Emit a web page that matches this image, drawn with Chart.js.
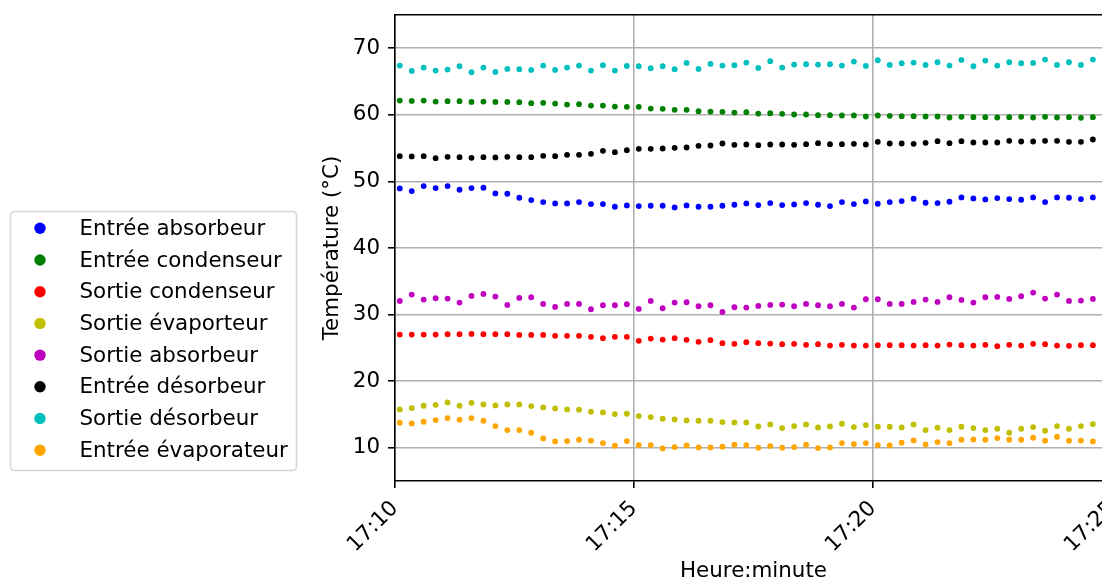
<!DOCTYPE html>
<html>
<head>
<meta charset="utf-8">
<script src="https://cdn.jsdelivr.net/npm/chart.js@4.4.0/dist/chart.umd.min.js"></script>
<style>
  html, body { margin: 0; padding: 0; background: #fff; overflow: hidden; }
  #wrap { width: 1125px; height: 583px; }
</style>
</head>
<body>
<div id="wrap"><canvas id="temp-chart" width="1125" height="583"></canvas></div>
<script>
// heure de chaque mesure
var heures = [
  '17:10:06','17:10:21','17:10:36','17:10:51','17:11:06','17:11:21','17:11:36','17:11:51',
  '17:12:06','17:12:21','17:12:36','17:12:51','17:13:06','17:13:21','17:13:36','17:13:51',
  '17:14:06','17:14:21','17:14:36','17:14:51','17:15:06','17:15:21','17:15:36','17:15:51',
  '17:16:06','17:16:21','17:16:36','17:16:51','17:17:06','17:17:21','17:17:36','17:17:51',
  '17:18:06','17:18:21','17:18:36','17:18:51','17:19:06','17:19:21','17:19:36','17:19:51',
  '17:20:06','17:20:21','17:20:36','17:20:51','17:21:06','17:21:21','17:21:36','17:21:51',
  '17:22:06','17:22:21','17:22:36','17:22:51','17:23:06','17:23:21','17:23:36','17:23:51',
  '17:24:06','17:24:21','17:24:36'
];

var entreeAbsorbeur = [
  48.95, 48.55, 49.3, 49.0, 49.3, 48.75, 49.0, 49.05, 48.2, 48.15, 47.55, 47.2, 46.9, 46.7, 46.7, 46.9, 46.6, 46.6, 46.2, 46.4,
  46.3, 46.35, 46.35, 46.1, 46.4, 46.2, 46.2, 46.35, 46.5, 46.7, 46.45, 46.75, 46.45, 46.55, 46.75, 46.5, 46.3, 46.9, 46.6, 47.0,
  46.65, 46.9, 47.05, 47.4, 46.8, 46.75, 46.95, 47.6, 47.45, 47.3, 47.5, 47.35, 47.25, 47.6, 46.9, 47.6, 47.55, 47.35, 47.6
];
var entreeCondenseur = [
  62.15, 62.1, 62.15, 62.0, 62.05, 62.05, 61.95, 62.0, 61.95, 61.95, 61.9, 61.75, 61.8, 61.7, 61.55, 61.6, 61.4, 61.4, 61.25, 61.2,
  61.2, 60.95, 60.9, 60.75, 60.75, 60.55, 60.5, 60.45, 60.35, 60.4, 60.2, 60.25, 60.15, 60.05, 60.05, 59.95, 59.95, 59.9, 59.9, 59.75,
  59.9, 59.85, 59.8, 59.8, 59.75, 59.75, 59.6, 59.7, 59.65, 59.65, 59.6, 59.65, 59.7, 59.6, 59.7, 59.6, 59.65, 59.55, 59.65
];
var sortieCondenseur = [
  27.0, 27.0, 27.0, 27.0, 27.05, 27.05, 27.1, 27.05, 27.05, 27.05, 26.95, 26.95, 26.95, 26.8, 26.8, 26.8, 26.65, 26.45, 26.65, 26.65,
  26.05, 26.4, 26.25, 26.45, 26.2, 25.9, 26.15, 25.7, 25.6, 25.85, 25.7, 25.65, 25.55, 25.6, 25.45, 25.55, 25.35, 25.45, 25.35, 25.35,
  25.4, 25.4, 25.4, 25.35, 25.4, 25.35, 25.5, 25.4, 25.35, 25.45, 25.25, 25.45, 25.35, 25.6, 25.55, 25.35, 25.3, 25.4, 25.4
];
var sortieEvaporteur = [
  15.75, 15.95, 16.3, 16.45, 16.8, 16.3, 16.75, 16.5, 16.35, 16.5, 16.5, 16.25, 16.05, 15.9, 15.75, 15.7, 15.4, 15.3, 15.05, 15.1,
  14.75, 14.6, 14.35, 14.25, 14.1, 14.05, 14.05, 13.85, 13.8, 13.8, 13.2, 13.5, 12.95, 13.25, 13.5, 13.05, 13.2, 13.6, 13.1, 13.4,
  13.15, 13.15, 13.05, 13.5, 12.65, 13.0, 12.65, 13.15, 12.95, 12.65, 12.85, 12.25, 12.85, 13.1, 12.55, 13.25, 12.85, 13.25, 13.55
];
var sortieAbsorbeur = [
  32.05, 33.0, 32.25, 32.45, 32.4, 31.8, 32.8, 33.1, 32.7, 31.45, 32.5, 32.6, 31.6, 31.15, 31.6, 31.6, 30.8, 31.4, 31.4, 31.55,
  30.85, 32.05, 30.95, 31.8, 31.85, 31.25, 31.4, 30.4, 31.1, 31.05, 31.3, 31.45, 31.5, 31.25, 31.6, 31.4, 31.25, 31.6, 31.05, 32.3,
  32.3, 31.6, 31.6, 31.9, 32.25, 31.9, 32.6, 32.2, 31.8, 32.6, 32.65, 32.35, 32.75, 33.3, 32.4, 33.0, 32.05, 32.1, 32.35
];
var entreeDesorbeur = [
  53.8, 53.75, 53.8, 53.5, 53.7, 53.65, 53.55, 53.65, 53.6, 53.7, 53.65, 53.65, 53.85, 53.8, 54.0, 54.0, 54.15, 54.6, 54.4, 54.7,
  54.9, 54.9, 54.95, 55.05, 55.1, 55.35, 55.4, 55.7, 55.5, 55.55, 55.45, 55.55, 55.55, 55.5, 55.6, 55.75, 55.6, 55.6, 55.65, 55.55,
  55.95, 55.7, 55.7, 55.65, 55.8, 56.05, 55.75, 56.05, 55.85, 55.85, 55.85, 56.1, 56.0, 56.0, 56.1, 56.1, 55.95, 55.95, 56.3
];
var sortieDesorbeur = [
  67.4, 66.6, 67.1, 66.65, 66.8, 67.3, 66.4, 67.1, 66.45, 66.9, 66.85, 66.75, 67.4, 66.75, 67.1, 67.4, 66.65, 67.45, 66.65, 67.35,
  67.3, 67.0, 67.3, 66.85, 67.8, 66.9, 67.65, 67.4, 67.45, 67.85, 67.05, 68.05, 67.1, 67.55, 67.6, 67.55, 67.6, 67.4, 68.0, 67.35,
  68.2, 67.5, 67.75, 67.85, 67.5, 67.9, 67.4, 68.25, 67.3, 68.15, 67.4, 67.9, 67.75, 67.8, 68.3, 67.5, 67.9, 67.5, 68.3
];
var entreeEvaporateur = [
  13.75, 13.65, 13.9, 14.15, 14.45, 14.2, 14.45, 14.05, 13.25, 12.65, 12.65, 12.25, 11.4, 10.95, 11.0, 11.2, 11.05, 10.7, 10.3, 11.0,
  10.4, 10.4, 9.9, 10.1, 10.35, 10.05, 10.05, 10.15, 10.45, 10.4, 10.0, 10.25, 10.0, 10.1, 10.45, 9.95, 10.05, 10.7, 10.55, 10.7,
  10.4, 10.35, 10.75, 11.1, 10.5, 10.85, 10.7, 11.2, 11.25, 11.2, 11.45, 11.2, 11.2, 11.5, 11.05, 11.65, 11.05, 11.05, 10.95
];

var libelles = ['Entrée absorbeur', 'Entrée condenseur', 'Sortie condenseur', 'Sortie évaporteur',
  'Sortie absorbeur', 'Entrée désorbeur', 'Sortie désorbeur', 'Entrée évaporateur'];
var series = [entreeAbsorbeur, entreeCondenseur, sortieCondenseur, sortieEvaporteur,
  sortieAbsorbeur, entreeDesorbeur, sortieDesorbeur, entreeEvaporateur];
var couleurs = ['#0000ff', '#008000', '#ff0000', '#bfbf00', '#bf00bf', '#000000', '#00bfbf', '#ffa500'];

var xTicks = [0, 300, 600, 900];      // secondes depuis 17:10
var yTicks = [10, 20, 30, 40, 50, 60, 70];

// secondes depuis 17:10:00
function enSecondes(h) {
  var p = h.split(':');
  return (parseInt(p[0]) - 17) * 3600 + (parseInt(p[1]) - 10) * 60 + parseInt(p[2]);
}
function etiquette(s) {
  var m = 10 + Math.round(s / 60);
  return '17:' + (m < 10 ? '0' + m : m);
}

var FONT = 'DejaVu Sans';
var TAILLE = 21.4;
Chart.defaults.font.family = FONT;
Chart.defaults.font.size = TAILLE;
Chart.defaults.color = '#000';

// legende a la matplotlib, a gauche du graphe
var legendePlugin = {
  id: 'legende',
  afterDraw: function (chart) {
    var ctx = chart.ctx;
    ctx.save();
    ctx.beginPath();
    ctx.roundRect(10.5, 211.5, 286, 259, 4);
    ctx.fillStyle = '#fff';
    ctx.fill();
    ctx.lineWidth = 1.6;
    ctx.strokeStyle = '#d6d6d6';
    ctx.stroke();
    ctx.font = TAILLE + 'px "' + FONT + '"';
    ctx.textBaseline = 'middle';
    for (var i = 0; i < libelles.length; i++) {
      var y = 228.3 + i * 31.7;
      ctx.beginPath();
      ctx.arc(40, y, 5.7, 0, Math.PI * 2);
      ctx.fillStyle = couleurs[i];
      ctx.fill();
      ctx.fillStyle = '#000';
      ctx.fillText(libelles[i], 79.5, y + 1);
    }
    ctx.restore();
  }
};

var datasets = series.map(function (vals, i) {
  return {
    label: libelles[i],
    data: heures.map(function (h, k) { return { x: enSecondes(h), y: vals[k] }; }),
    backgroundColor: couleurs[i],
    borderWidth: 0,
    pointRadius: 2.9,
    pointHoverRadius: 2.9,
    order: series.length - i
  };
});

function sansPadding(scale) {
  scale.paddingLeft = 0; scale.paddingRight = 0;
  scale.paddingTop = 0; scale.paddingBottom = 0;
}

new Chart(document.getElementById('temp-chart'), {
  type: 'scatter',
  data: { datasets: datasets },
  options: {
    responsive: false,
    animation: false,
    devicePixelRatio: 1,
    layout: { padding: { left: 320, top: 15, right: 13, bottom: 0 } },
    plugins: {
      legend: { display: false },
      tooltip: { enabled: false }
    },
    scales: {
      x: {
        type: 'linear',
        position: 'bottom',
        min: 0,
        max: 900,
        afterBuildTicks: function (s) { s.ticks = xTicks.map(function (v) { return { value: v }; }); },
        afterFit: function (s) { s.height = 102; sansPadding(s); },
        ticks: {
          minRotation: 45,
          maxRotation: 45,
          padding: 8,
          callback: function (v) { return etiquette(v); }
        },
        grid: { color: '#b0b0b0', lineWidth: 1.6, tickColor: '#000', tickLength: 7, tickWidth: 1.6 },
        border: { color: '#000', width: 1.6 },
        title: { display: true, text: 'Heure:minute', padding: { top: 0, bottom: -1 } }
      },
      xHaut: {
        type: 'linear',
        position: 'top',
        min: 0,
        max: 900,
        ticks: { display: false },
        grid: { display: false, drawTicks: false },
        border: { color: '#000', width: 1.6 },
        afterFit: function (s) { s.height = 0; sansPadding(s); }
      },
      y: {
        type: 'linear',
        min: 5,
        max: 75,
        afterBuildTicks: function (s) { s.ticks = yTicks.map(function (v) { return { value: v }; }); },
        afterFit: function (s) { s.width = 75; sansPadding(s); },
        ticks: { padding: 8 },
        grid: { color: '#b0b0b0', lineWidth: 1.6, tickColor: '#000', tickLength: 7, tickWidth: 1.6 },
        border: { color: '#000', width: 1.6 },
        title: { display: true, text: 'Température (°C)', padding: 0 }
      }
    }
  },
  plugins: [legendePlugin]
});
</script>
</body>
</html>
